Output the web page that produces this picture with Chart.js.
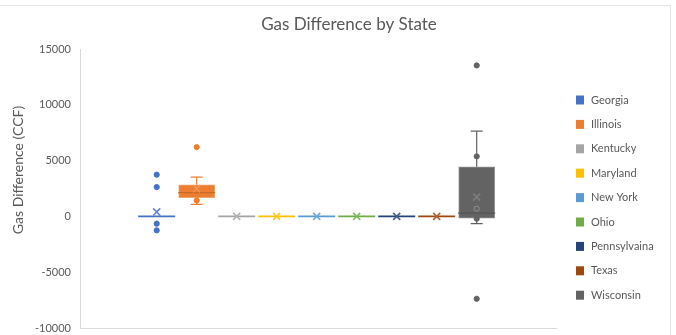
<!DOCTYPE html>
<html>
<head>
<meta charset="utf-8">
<script src="https://cdn.jsdelivr.net/npm/chart.js@4/dist/chart.umd.min.js"></script>
<style>
html,body{margin:0;padding:0;background:#fff;}
#wrap{position:relative;width:676px;height:335px;}
</style>
</head>
<body>
<div id="wrap"><canvas id="c" width="676" height="335"></canvas></div>
<script>
// ---- data ----
const chartTitle = 'Gas Difference by State';
const yTitle = 'Gas Difference (CCF)';
const states = ['Georgia','Illinois','Kentucky','Maryland','New York','Ohio','Pennsylvaina','Texas','Wisconsin'];
const colors = ['#4472C4','#ED7D31','#A5A5A5','#FFC000','#5B9BD5','#70AD47','#264478','#9E480E','#636363'];
const q1Values      = [0, 1675, 0, 0, 0, 0, 0, 0, -150];
const medianValues  = [0, 2125, 0, 0, 0, 0, 0, 0, 300];
const q3Values      = [0, 2840, 0, 0, 0, 0, 0, 0, 4450];
const meanValues    = [400, 2480, 0, 0, 0, 0, 0, 0, 1730];
const whiskerLow    = [0, 1075, 0, 0, 0, 0, 0, 0, -650];
const whiskerHigh   = [0, 3520, 0, 0, 0, 0, 0, 0, 7650];
const georgiaPoints   = [3740, 2630, -650, -1250];
const illinoisPoints  = [6210, 1430];
const wisconsinPoints = [13530, 5380, 690, -200, -7380];
const yTicks = [-10000, -5000, 0, 5000, 10000, 15000];
const yTickLabels = ['-10000', '-5000', '0', '5000', '10000', '15000'];

const pointsByState = [georgiaPoints, illinoisPoints, [], [], [], [], [], [], wisconsinPoints];

// ---- helpers ----
function mix(hex, target, t){
  const n = parseInt(hex.slice(1),16);
  const r=(n>>16)&255,g=(n>>8)&255,b=n&255;
  const f=c=>Math.round(c+(target-c)*t);
  return 'rgb('+f(r)+','+f(g)+','+f(b)+')';
}
const FONT = 'Lato, "Open Sans", sans-serif';
const TEXT = '#595959';

const barDatasets = states.map((s,i)=>({
  type:'bar',
  label:s,
  data:[{x:i+1, y:[q1Values[i], q3Values[i]]}],
  backgroundColor:colors[i],
  borderColor:mix(colors[i],255,0.3),
  borderWidth:1,
  borderSkipped:false,
  barThickness:36,
  grouped:false,
  order:3
}));

const ptData=[], ptBg=[], ptBorder=[];
pointsByState.forEach((arr,i)=>arr.forEach(v=>{
  ptData.push({x:i+1,y:v});
  ptBg.push(colors[i]);
  const inside = v>q1Values[i] && v<q3Values[i];
  ptBorder.push(inside ? mix(colors[i],255,0.3) : colors[i]);
}));

const pointsDataset = {
  type:'scatter', label:'points', data:ptData,
  pointRadius:2.6, pointBackgroundColor:ptBg, pointBorderColor:ptBorder, pointBorderWidth:1,
  order:2
};
const meansDataset = {
  type:'scatter', label:'means',
  data:meanValues.map((m,i)=>({x:i+1,y:m})),
  pointStyle:'crossRot', pointRadius:5,
  pointBorderWidth:1.6,
  pointBorderColor:colors.map((c,i)=> (q3Values[i]-q1Values[i]>0) ? mix(c,255,0.18) : mix(c,255,0.15)),
  pointBackgroundColor:colors,
  order:1
};

const boxPlugin = {
  id:'boxParts',
  beforeDraw(chart){
    const ctx=chart.ctx;
    ctx.save();
    ctx.strokeStyle='#e4e4e4';
    ctx.lineWidth=1;
    ctx.beginPath();
    ctx.moveTo(0,5.5); ctx.lineTo(670.5,5.5);
    ctx.moveTo(670.5,5.5); ctx.lineTo(670.5,335);
    ctx.stroke();
    ctx.restore();
  },
  afterDatasetDraw(chart,args){
    if(args.index!==0) return; // after the last box is painted
    const ctx=chart.ctx, xs=chart.scales.x, ys=chart.scales.y;
    ctx.save();
    states.forEach((s,i)=>{
      const cx=xs.getPixelForValue(i+1);
      const col=colors[i];
      ctx.strokeStyle=col; ctx.lineWidth=1.2;
      const yH=ys.getPixelForValue(whiskerHigh[i]), yQ3=ys.getPixelForValue(q3Values[i]);
      const yL=ys.getPixelForValue(whiskerLow[i]), yQ1=ys.getPixelForValue(q1Values[i]);
      if(whiskerHigh[i]>q3Values[i]){
        ctx.beginPath();ctx.moveTo(cx,yQ3);ctx.lineTo(cx,yH);ctx.moveTo(cx-6,yH);ctx.lineTo(cx+6,yH);ctx.stroke();
      }
      if(whiskerLow[i]<q1Values[i]){
        ctx.beginPath();ctx.moveTo(cx,yQ1);ctx.lineTo(cx,yL);ctx.moveTo(cx-6,yL);ctx.lineTo(cx+6,yL);ctx.stroke();
      }
      const flat = q3Values[i]-q1Values[i]<=0;
      ctx.strokeStyle = flat ? col : mix(col,0,0.15);
      ctx.lineWidth = flat ? 1.6 : 1.3;
      const ym=ys.getPixelForValue(medianValues[i]);
      ctx.beginPath();ctx.moveTo(cx-18.5,ym);ctx.lineTo(cx+18.5,ym);ctx.stroke();
    });
    ctx.restore();
  },
  afterDraw(chart){
    const ctx=chart.ctx;
    ctx.save();
    ctx.fillStyle=TEXT;
    ctx.font='17px '+FONT;
    ctx.textAlign='center'; ctx.textBaseline='middle';
    ctx.fillText(chartTitle,349,25);
    ctx.save();
    ctx.translate(18,170); ctx.rotate(-Math.PI/2);
    ctx.font='14px '+FONT;
    ctx.fillText(yTitle,0,0);
    ctx.restore();
    ctx.font='11px '+FONT;
    ctx.textAlign='left';
    states.forEach((s,i)=>{
      const y=100+i*24.4;
      ctx.fillStyle=colors[i];
      ctx.fillRect(576,y-4.5,8,9);
      ctx.fillStyle=TEXT;
      ctx.fillText(s,591,y);
    });
    ctx.restore();
  }
};

new Chart(document.getElementById('c'),{
  type:'bar',
  data:{datasets:[...barDatasets, pointsDataset, meansDataset]},
  options:{
    responsive:false, animation:false,
    layout:{padding:{top:49,right:120,bottom:0,left:0}},
    plugins:{legend:{display:false},title:{display:false},tooltip:{enabled:false}},
    scales:{
      x:{type:'linear',min:-0.9175,max:10.9825,offset:false,
         ticks:{display:false},grid:{display:false},
         border:{display:true,color:'#d9d9d9',width:1},
         afterFit(s){s.height=0;}},
      y:{type:'linear',min:-10000,max:15000,
         afterBuildTicks(s){s.ticks=yTicks.map(v=>({value:v}));},
         ticks:{color:TEXT,font:{family:FONT,size:11},padding:9,
                callback:(v)=>yTickLabels[yTicks.indexOf(v)]},
         grid:{display:false,drawTicks:false},
         border:{display:true,color:'#d9d9d9',width:1},
         afterFit(s){s.width=80;s.paddingBottom=7;s.paddingTop=0;}}
    }
  },
  plugins:[boxPlugin]
});
</script>
</body>
</html>
